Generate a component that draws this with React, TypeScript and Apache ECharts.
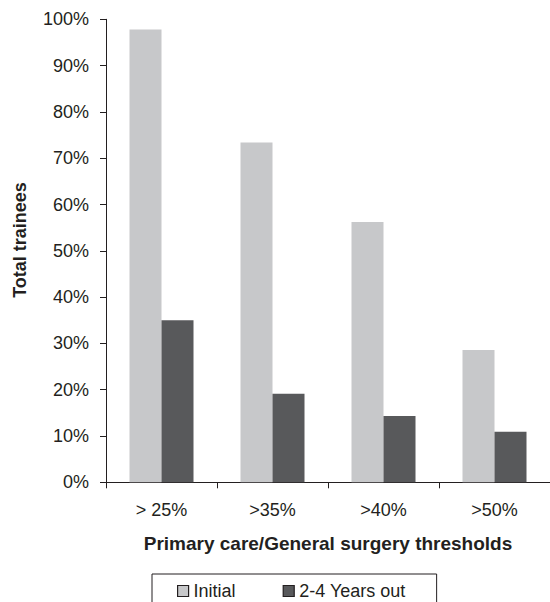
import React, { useEffect, useRef } from "react";
import * as echarts from "echarts";

const categories = ["> 25%", ">35%", ">40%", ">50%"];
const initialValues = [97.8, 73.4, 56.2, 28.6];
const laterValues = [35.0, 19.1, 14.3, 10.9];
const yTicks = [0, 10, 20, 30, 40, 50, 60, 70, 80, 90, 100];

const TEXT = "#231f20";
const FONT = "Liberation Sans, Arial, sans-serif";

export default function App() {
  const ref = useRef<HTMLDivElement>(null);
  useEffect(() => {
    document.body.style.margin = "0";
    const chart = echarts.init(ref.current!, null, { renderer: "svg" });
    chart.setOption({
      animation: false,
      backgroundColor: "#ffffff",
      textStyle: { fontFamily: FONT, color: TEXT },
      grid: { left: 106, top: 19.3, width: 447, bottom: 119.7, containLabel: false },
      xAxis: {
        type: "category",
        data: categories,
        axisLine: { lineStyle: { color: TEXT, width: 1 } },
        axisTick: { show: true, length: 6, lineStyle: { color: TEXT } },
        axisLabel: { color: TEXT, fontSize: 18, margin: 19, fontFamily: FONT },
        name: "Primary care/General surgery thresholds",
        nameLocation: "middle",
        nameGap: 52,
        nameTextStyle: { color: TEXT, fontSize: 19, fontWeight: "bold", fontFamily: FONT, verticalAlign: "top" },
      },
      yAxis: {
        type: "value",
        min: yTicks[0],
        max: yTicks[yTicks.length - 1],
        interval: 10,
        axisLine: { show: true, lineStyle: { color: TEXT, width: 1 } },
        axisTick: { show: true, length: 6, lineStyle: { color: TEXT } },
        splitLine: { show: false },
        axisLabel: { color: TEXT, fontSize: 18, margin: 17, fontFamily: FONT, formatter: "{value}%" },
      },
      legend: {
        left: 152,
        top: 574,
        padding: [8, 31, 30, 25],
        borderColor: TEXT,
        borderWidth: 1,
        icon: "rect",
        itemWidth: 11,
        itemHeight: 11,
        itemGap: 47,
        itemStyle: { borderColor: TEXT, borderWidth: 1.2 },
        textStyle: { color: TEXT, fontSize: 18, fontFamily: FONT },
        data: ["Initial", "2-4 Years out"],
      },
      graphic: [
        {
          type: "text",
          x: 20,
          y: 240,
          rotation: Math.PI / 2,
          style: {
            text: "Total trainees",
            fill: TEXT,
            font: `bold 18px ${FONT}`,
            align: "center",
            verticalAlign: "middle",
          },
        },
      ],
      series: [
        {
          name: "Initial",
          type: "bar",
          data: initialValues,
          barWidth: 32,
          barGap: "0%",
          itemStyle: { color: "#c7c8ca" },
        },
        {
          name: "2-4 Years out",
          type: "bar",
          data: laterValues,
          barWidth: 32,
          barGap: "0%",
          itemStyle: { color: "#58595b" },
        },
      ],
    });
    return () => chart.dispose();
  }, []);
  return <div ref={ref} style={{ width: 550, height: 602 }} />;
}
